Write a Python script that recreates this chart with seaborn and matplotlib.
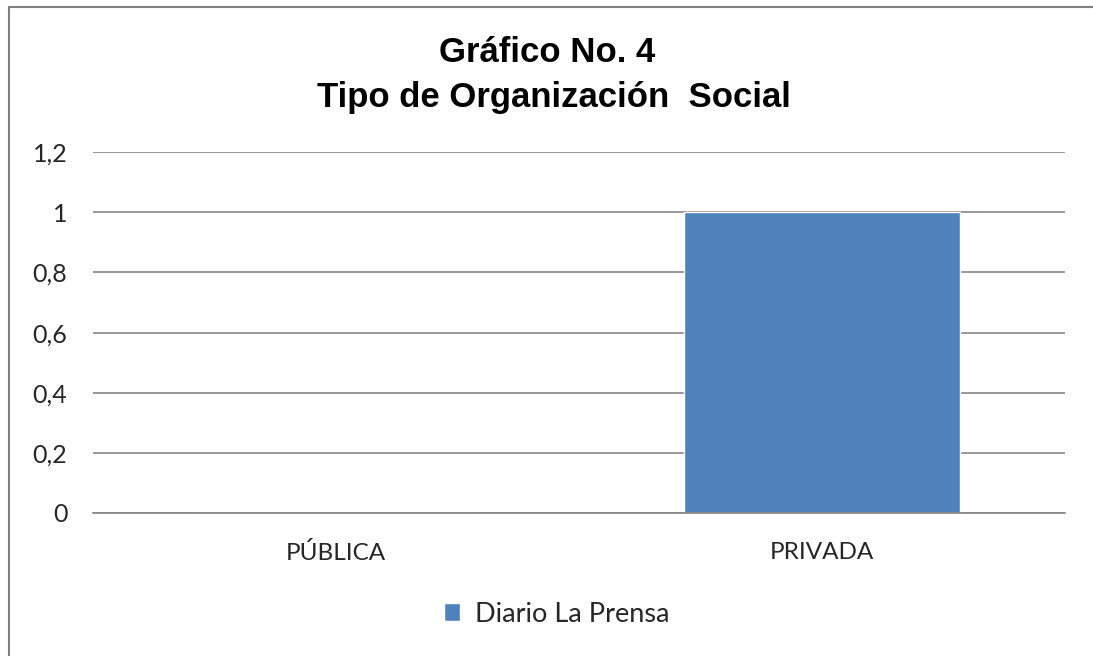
import matplotlib
matplotlib.use("Agg")
import matplotlib.pyplot as plt
from matplotlib.lines import Line2D
import seaborn as sns
import pandas as pd

categorias = ["PÚBLICA", "PRIVADA"]
valores = [0, 1]
serie = "Diario La Prensa"
yticks = [0, 0.2, 0.4, 0.6, 0.8, 1.0, 1.2]
ytick_labels = ["0", "0,2", "0,4", "0,6", "0,8", "1", "1,2"]
titulo_1 = "Gráfico No. 4"
titulo_2 = "Tipo de Organización  Social"

sns.set_theme(style="white")
plt.rcParams["font.family"] = ["Lato", "DejaVu Sans"]

df = pd.DataFrame({"Tipo": categorias, "Valor": valores, "Serie": serie})

fig = plt.figure(figsize=(10.93, 6.56), dpi=100)
ax = fig.add_axes([0.0851, 0.218, 0.8893, 0.550])

sns.barplot(data=df, x="Tipo", y="Valor", hue="Serie", palette=["#4F81BD"],
            width=0.568, ax=ax, saturation=1, legend=True)

ax.set_ylim(0, 1.2)
ax.set_yticks(yticks)
ax.set_yticklabels(ytick_labels)
ax.set_xlabel("")
ax.set_ylabel("")
ax.yaxis.grid(True, color="#868686", linewidth=1.2)
ax.set_axisbelow(True)
for s in ["top", "right", "left"]:
    ax.spines[s].set_visible(False)
ax.spines["bottom"].set_color("#868686")
ax.spines["bottom"].set_linewidth(1.2)
ax.tick_params(axis="y", length=0, pad=18.5, labelsize=18, labelcolor="#262626")
ax.tick_params(axis="x", length=0, pad=21, labelsize=17.5, labelcolor="#262626")

title_kw = dict(ha="center", va="baseline", fontsize=25, fontweight="bold",
                family=["Liberation Sans", "DejaVu Sans"], color="black")
fig.text(0.5005, 1 - 62 / 656, titulo_1, **title_kw)
fig.text(0.5065, 1 - 107 / 656, titulo_2, **title_kw)

leg = ax.legend(loc="center", bbox_to_anchor=(0.509, 0.064),
                bbox_transform=fig.transFigure, frameon=False, fontsize=19.5,
                handlelength=0.6, handleheight=0.6, handletextpad=0.55)
for t in leg.get_texts():
    t.set_color("#262626")

# chart frame
fig.add_artist(Line2D([0.0078, 0.0078], [0.0, 0.989], transform=fig.transFigure,
                      color="#7f7f7f", linewidth=1.5))
fig.add_artist(Line2D([0.0078, 1.0], [0.989, 0.989], transform=fig.transFigure,
                      color="#7f7f7f", linewidth=1.5))

fig.savefig("out.png", dpi=100, facecolor="white")
